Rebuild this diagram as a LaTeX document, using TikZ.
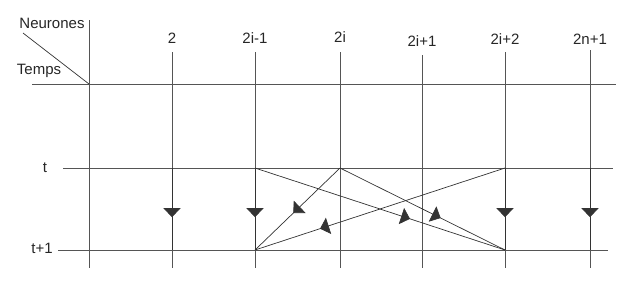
\documentclass[tikz,border=0pt]{standalone}
\usepackage{fontspec}
\setmainfont{Liberation Sans}
\usetikzlibrary{arrows.meta,decorations.markings}
\definecolor{linegray}{HTML}{555555}
\definecolor{headgray}{HTML}{333333}
\tikzset{
  grid/.style={draw=linegray, line width=0.8pt},
  lab/.style={font=\fontsize{15}{17}\selectfont, inner sep=0pt, text=black!85},
  midarrow/.style={draw=black!80, line width=0.7pt, postaction={decorate},
    decoration={markings, mark=at position #1 with {\arrow[headgray]{Triangle[width=17pt,length=9pt]}}}},
}
\begin{document}
\begin{tikzpicture}[x=1pt,y=1pt]
\useasboundingbox (0,0) rectangle (629,-282);
% labels
\node[lab] (neur) at (52,-23) {Neurones};
\node[lab] (temps) at (39,-71) {Temps};
\node[lab] (n2) at (172,-38) {2};
\node[lab] (n3) at (255,-38) {2i-1};
\node[lab] (n4) at (340,-37) {2i};
\node[lab] (n5) at (422,-41) {2i+1};
\node[lab] (n6) at (505,-39) {2i+2};
\node[lab] (n7) at (590,-39) {2n+1};
\node[lab] (lt) at (45,-168) {t};
\node[lab] (lt1) at (42,-248) {t+1};
% coordinates
\foreach \n/\x in {1/89,2/172,3/255,4/340,5/422,6/505,7/590}{
  \coordinate (b\n) at (\x,-268);
  \coordinate (t\n) at (\x,-168);
  \coordinate (u\n) at (\x,-250);
}
\coordinate (top1) at (89,-20);
\coordinate (top2) at (172,-52);
\coordinate (top3) at (255,-52);
\coordinate (top4) at (340,-52);
\coordinate (top5) at (422,-55);
\coordinate (top6) at (505,-52);
\coordinate (top7) at (590,-50);
\coordinate (h0a) at (32,-84);  \coordinate (h0b) at (616,-84);
\coordinate (h1a) at (63,-168); \coordinate (h1b) at (613,-168);
\coordinate (h2a) at (58,-250); \coordinate (h2b) at (608,-250);
\coordinate (diag) at (23,-33);
\coordinate (corner) at (89,-84);
% horizontal lines
\draw[grid] (h0a) -- (h0b);
\draw[grid] (h1a) -- (h1b);
\draw[grid] (h2a) -- (h2b);
\draw[draw=black!80, line width=0.7pt] (diag) -- (corner);
% vertical lines
\foreach \n in {1,...,7}{
  \draw[grid] (top\n) -- (b\n);
}
% vertical arrows
\foreach \n in {2,3,6,7}{
  \draw[midarrow=0.6] (t\n) -- (u\n);
}
% diagonal arrows
\draw[midarrow=0.62] (t3) -- (u6);
\draw[midarrow=0.61] (t4) -- (u6);
\draw[midarrow=0.55] (t4) -- (u3);
\draw[midarrow=0.74] (t6) -- (u3);
\end{tikzpicture}
\end{document}
